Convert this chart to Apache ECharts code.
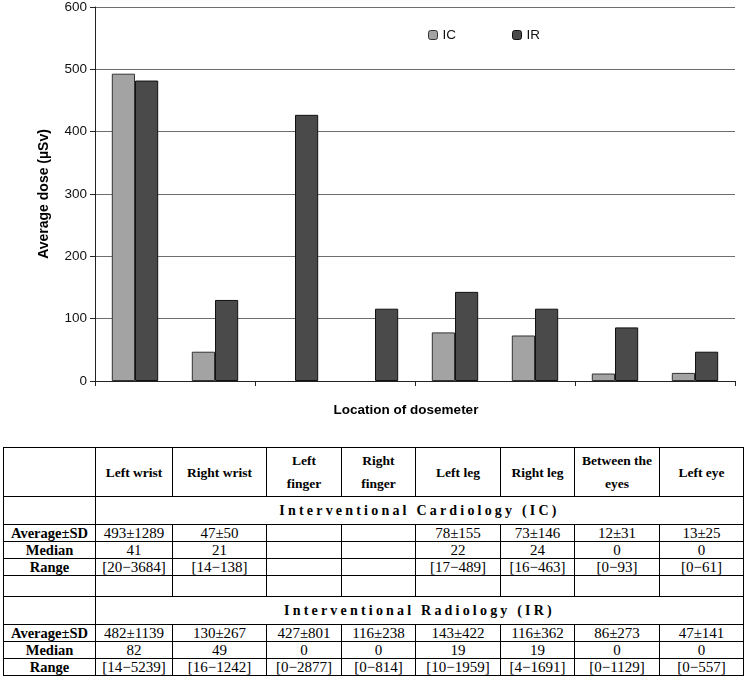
<!DOCTYPE html>
<html>
<head>
<meta charset="utf-8">
<script src="https://cdn.jsdelivr.net/npm/echarts@6/dist/echarts.min.js"></script>
<style>
  html, body { margin: 0; padding: 0; background: #fff; }
  #chart { position: absolute; left: 0; top: 0; width: 747px; height: 440px; }
  #tbl { position: absolute; left: 3px; top: 447px; width: 740px; border-collapse: collapse;
         font-family: "Liberation Serif", "Times New Roman", serif; font-size: 15px; color: #000; table-layout: fixed; }
  #tbl td { border: 1.5px solid #000; text-align: center; padding: 0; line-height: 16px; white-space: nowrap; }
  #tbl tr.hdr td { height: 48px; font-weight: bold; font-size: 13.5px; line-height: 23px; }
  #tbl tr.ttl td { height: 27px; font-weight: bold; font-size: 14px; letter-spacing: 3.2px; }
  #tbl tr.row td { height: 16px; }
  #tbl tr.blank td { height: 20px; }
  #tbl td.lab { font-weight: bold; font-size: 14.5px; }
</style>
</head>
<body>
<div id="chart"></div>
<table id="tbl"></table>
<script>
const categories = ["Left wrist", "Right wrist", "Left finger", "Right finger", "Left leg", "Right leg", "Between the eyes", "Left eye"];
const headerLabels = ["Left wrist", "Right wrist", "Left<br>finger", "Right<br>finger", "Left leg", "Right leg", "Between the<br>eyes", "Left eye"];
const icValues = [493, 47, null, null, 78, 73, 12, 13];
const irValues = [482, 130, 427, 116, 143, 116, 86, 47];
const yTicks = [0, 100, 200, 300, 400, 500, 600];

const icAvg = ["493±1289", "47±50", "", "", "78±155", "73±146", "12±31", "13±25"];
const icMedian = ["41", "21", "", "", "22", "24", "0", "0"];
const icRange = ["[20−3684]", "[14−138]", "", "", "[17−489]", "[16−463]", "[0−93]", "[0−61]"];
const irAvg = ["482±1139", "130±267", "427±801", "116±238", "143±422", "116±362", "86±273", "47±141"];
const irMedian = ["82", "49", "0", "0", "19", "19", "0", "0"];
const irRange = ["[14−5239]", "[16−1242]", "[0−2877]", "[0−814]", "[10−1959]", "[4−1691]", "[0−1129]", "[0−557]"];
const colWidths = [92, 77, 94, 75, 74, 85, 74, 85, 84];

const chart = echarts.init(document.getElementById('chart'), null, { renderer: 'canvas' });
chart.setOption({
  animation: false,
  backgroundColor: '#fff',
  textStyle: { fontFamily: 'Liberation Sans, Arial, sans-serif' },
  legend: {
    left: 423, top: 23, itemWidth: 9, itemHeight: 9, itemGap: 56,
    textStyle: { fontSize: 13.5, color: '#111', fontFamily: 'Liberation Sans, Arial' },
    data: [
      { name: 'IC', itemStyle: { color: '#a3a3a3', borderColor: '#333', borderWidth: 1 } },
      { name: 'IR', itemStyle: { color: '#4a4a4a', borderColor: '#111', borderWidth: 1 } }
    ]
  },
  grid: { left: 95, right: 12, top: 5, bottom: 59 },
  xAxis: {
    type: 'category', data: categories,
    name: 'Location of dosemeter', nameLocation: 'middle', nameGap: 22,
    nameTextStyle: { fontSize: 13.5, fontWeight: 'bold', color: '#000', fontFamily: 'Liberation Sans, Arial', padding: [0, 18, 0, 0] },
    axisLine: { lineStyle: { color: '#222', width: 1 } },
    axisTick: { show: true, length: 5, lineStyle: { color: '#222' } },
    axisLabel: { show: false }
  },
  yAxis: {
    type: 'value', min: yTicks[0], max: yTicks[yTicks.length - 1], interval: 100,
    name: 'Average dose (µSv)', nameLocation: 'middle', nameGap: 44,
    nameTextStyle: { fontSize: 14, fontWeight: 'bold', color: '#000', fontFamily: 'Liberation Sans, Arial' },
    axisLine: { show: true, lineStyle: { color: '#222', width: 1 } },
    axisTick: { show: true, length: 5, lineStyle: { color: '#222' } },
    axisLabel: { fontSize: 13.5, color: '#111', margin: 8, fontFamily: 'Liberation Sans, Arial' },
    splitLine: { lineStyle: { color: '#6e6e6e', width: 1 } }
  },
  series: [
    { name: 'IC', type: 'bar', data: icValues, barGap: '0%', barCategoryGap: '42%',
      itemStyle: { color: '#a3a3a3', borderColor: '#333', borderWidth: 1 } },
    { name: 'IR', type: 'bar', data: irValues, barGap: '0%', barCategoryGap: '42%',
      itemStyle: { color: '#4a4a4a', borderColor: '#111', borderWidth: 1 } }
  ]
});

// Build table from arrays
const tbl = document.getElementById('tbl');
let html = '<colgroup>' + colWidths.map(w => '<col style="width:' + w + 'px">').join('') + '</colgroup>';
html += '<tr class="hdr"><td></td>' + headerLabels.map(h => '<td>' + h + '</td>').join('') + '</tr>';
function dataRow(label, arr) {
  return '<tr class="row"><td class="lab">' + label + '</td>' + arr.map(v => '<td>' + v + '</td>').join('') + '</tr>';
}
html += '<tr class="ttl"><td></td><td colspan="8">Interventional Cardiology (IC)</td></tr>';
html += dataRow('Average±SD', icAvg) + dataRow('Median', icMedian) + dataRow('Range', icRange);
html += '<tr class="blank"><td></td>' + categories.map(() => '<td></td>').join('') + '</tr>';
html += '<tr class="ttl"><td></td><td colspan="8">Interventional Radiology (IR)</td></tr>';
html += dataRow('Average±SD', irAvg) + dataRow('Median', irMedian) + dataRow('Range', irRange);
tbl.innerHTML = html;
</script>
</body>
</html>
